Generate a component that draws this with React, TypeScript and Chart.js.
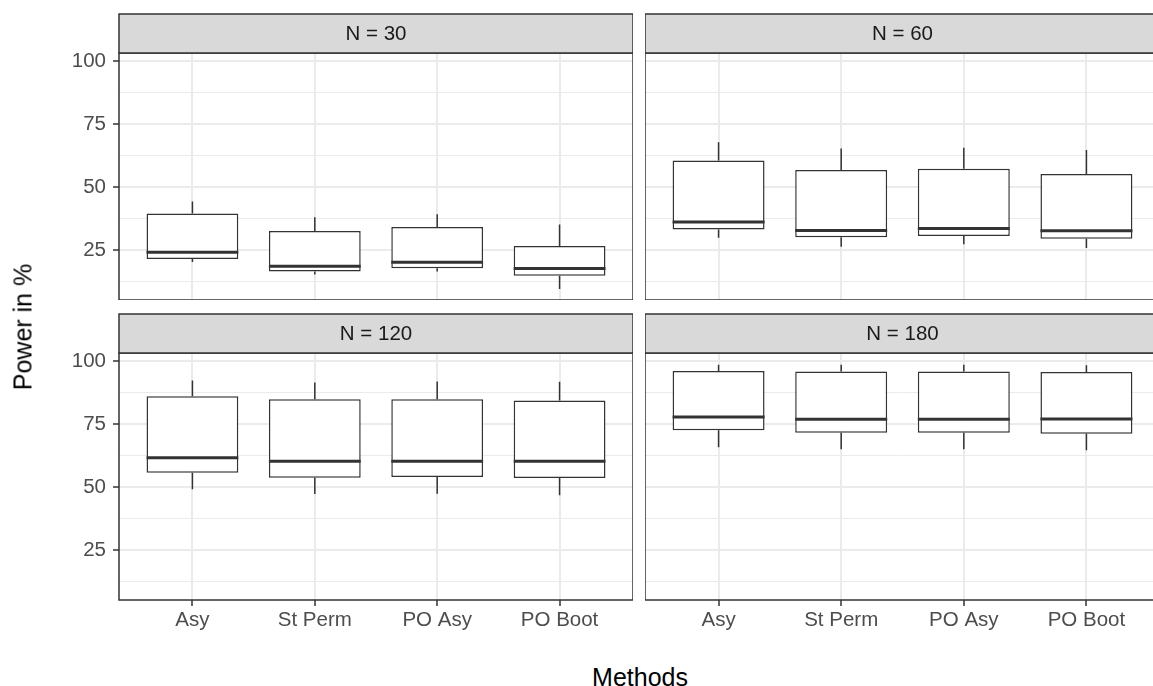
import React, { useEffect, useRef } from 'react';
import { Chart, registerables } from 'chart.js';

Chart.register(...registerables);

// ---------- data ----------
const methods = ['Asy', 'St Perm', 'PO Asy', 'PO Boot'];
const methodPositions = [1, 2, 3, 4];
const panelTitles = ['N = 30', 'N = 60', 'N = 120', 'N = 180'];
const yMajorTicks = [25, 50, 75, 100];
const yMinorTicks = [12.5, 37.5, 62.5, 87.5];

const n30Low = [20.2, 15.2, 16.4, 9.5];
const n30Q1 = [21.4, 16.4, 17.7, 14.7];
const n30Median = [24.1, 18.5, 20.1, 17.6];
const n30Q3 = [39.5, 32.5, 34.1, 26.5];
const n30High = [44.2, 38.0, 39.2, 35.1];

const n60Low = [29.8, 26.2, 27.2, 25.8];
const n60Q1 = [33.1, 30.0, 30.5, 29.4];
const n60Median = [36.1, 32.7, 33.5, 32.6];
const n60Q3 = [60.5, 56.7, 57.2, 55.1];
const n60High = [67.8, 65.3, 65.6, 64.7];

const n120Low = [49.1, 47.2, 47.3, 46.7];
const n120Q1 = [55.6, 53.7, 54.0, 53.6];
const n120Median = [61.6, 60.2, 60.2, 60.2];
const n120Q3 = [86.0, 84.8, 84.8, 84.3];
const n120High = [92.3, 91.5, 91.9, 91.8];

const n180Low = [65.8, 65.0, 65.0, 64.6];
const n180Q1 = [72.5, 71.5, 71.5, 71.1];
const n180Median = [77.8, 76.9, 76.9, 77.0];
const n180Q3 = [96.1, 95.9, 95.9, 95.7];
const n180High = [98.5, 98.5, 98.5, 98.3];

const yMin = 5.1;
const yMax = 103.2;

// ---------- styles ----------
const FONT = '"Liberation Sans", Arial, Helvetica, sans-serif';
const DARK = '#333333';
const GRID = '#EBEBEB';

type Stats = { low: number[]; q1: number[]; median: number[]; q3: number[]; high: number[] };

const facetPlugin = {
  id: 'facetBox',
  afterDatasetsDraw(chart: any, _args: any, opts: any) {
    const { ctx } = chart;
    const yScale = chart.scales.y;
    const meta = chart.getDatasetMeta(0);
    const st: Stats = opts.stats;
    ctx.save();
    ctx.strokeStyle = DARK;
    meta.data.forEach((bar: any, i: number) => {
      const x = bar.x;
      const w = bar.width;
      ctx.lineWidth = 1.5;
      ctx.beginPath();
      ctx.moveTo(x, yScale.getPixelForValue(st.q3[i]));
      ctx.lineTo(x, yScale.getPixelForValue(st.high[i]));
      ctx.moveTo(x, yScale.getPixelForValue(st.q1[i]));
      ctx.lineTo(x, yScale.getPixelForValue(st.low[i]));
      ctx.stroke();
      ctx.lineWidth = 3;
      const ym = yScale.getPixelForValue(st.median[i]);
      ctx.beginPath();
      ctx.moveTo(x - w / 2, ym);
      ctx.lineTo(x + w / 2, ym);
      ctx.stroke();
    });
    ctx.restore();
  },
  afterDraw(chart: any, _args: any, opts: any) {
    const { ctx, chartArea } = chart;
    const { left, right, top, bottom } = chartArea;
    ctx.save();
    // panel border
    ctx.strokeStyle = DARK;
    ctx.lineWidth = 1.5;
    ctx.strokeRect(left, top, right - left, bottom - top);
    // strip
    const sh = 39;
    ctx.fillStyle = '#D9D9D9';
    ctx.fillRect(left, top - sh, right - left, sh);
    ctx.strokeRect(left, top - sh, right - left, sh);
    ctx.fillStyle = '#1A1A1A';
    ctx.font = `20.5px ${FONT}`;
    ctx.textAlign = 'center';
    ctx.textBaseline = 'middle';
    ctx.fillText(opts.title, (left + right) / 2, top - sh / 2 + 1);
    ctx.restore();
  },
};

type PanelProps = {
  left: number;
  top: number;
  width: number;
  height: number;
  showX: boolean;
  showY: boolean;
  title: string;
  stats: Stats;
};

function Panel({ left, top, width, height, showX, showY, title, stats }: PanelProps) {
  const ref = useRef<HTMLCanvasElement | null>(null);
  useEffect(() => {
    if (!ref.current) return;
    const isMajor = (v: number) => yMajorTicks.includes(v);
    const chart = new Chart(ref.current, {
      type: 'bar',
      data: {
        datasets: [
          {
            data: methodPositions.map((x, i) => ({ x, y: [stats.q1[i], stats.q3[i]] })) as any,
            backgroundColor: '#FFFFFF',
            borderColor: DARK,
            borderWidth: 1.5,
            borderSkipped: false,
            barPercentage: 0.75,
            categoryPercentage: 1,
          },
        ],
      },
      options: {
        responsive: false,
        animation: false,
        events: [],
        layout: { padding: { top: 40, left: 0, right: 0, bottom: 0 } },
        plugins: {
          legend: { display: false },
          tooltip: { enabled: false },
          title: { display: false },
          facetBox: { stats, title },
        } as any,
        scales: {
          x: {
            type: 'linear',
            min: 0.4,
            max: 4.6,
            offset: false,
            afterBuildTicks: (s: any) => {
              s.ticks = methodPositions.map((v) => ({ value: v }));
            },
            afterFit: (s: any) => {
              s.height = showX ? 40 : 0;
              s.paddingLeft = 0;
              s.paddingRight = 0;
            },
            ticks: {
              display: showX,
              autoSkip: false,
              maxRotation: 0,
              padding: 2,
              color: '#4D4D4D',
              font: { family: FONT, size: 20.5 },
              callback: (_v: any, i: number) => methods[i],
            },
            grid: {
              offset: false,
              color: GRID,
              lineWidth: 2,
              drawTicks: showX,
              tickLength: 6,
              tickColor: DARK,
              tickWidth: 1.5,
            },
            border: { display: false },
          },
          y: {
            type: 'linear',
            min: yMin,
            max: yMax,
            afterBuildTicks: (s: any) => {
              s.ticks = [...yMinorTicks, ...yMajorTicks].sort((a, b) => a - b).map((v) => ({ value: v }));
            },
            afterFit: (s: any) => {
              s.width = showY ? 119 : 0;
              s.paddingTop = 0;
              s.paddingBottom = 0;
            },
            ticks: {
              display: showY,
              padding: 7,
              color: '#4D4D4D',
              font: { family: FONT, size: 20.5 },
              callback: (v: any) => (isMajor(v) ? String(v) : ''),
            },
            grid: {
              color: GRID,
              lineWidth: (c: any) => (c.tick && isMajor(c.tick.value) ? 2 : 1),
              drawTicks: showY,
              tickLength: 6,
              tickColor: (c: any) => (c.tick && isMajor(c.tick.value) ? DARK : 'rgba(0,0,0,0)'),
              tickWidth: 1.5,
            },
            border: { display: false },
          },
        } as any,
      },
      plugins: [facetPlugin as any],
    });
    return () => chart.destroy();
  }, []);
  return (
    <div style={{ position: 'absolute', left, top, width, height }}>
      <canvas ref={ref} width={width} height={height} style={{ width, height, display: 'block' }} />
    </div>
  );
}

export default function App() {
  const s30: Stats = { low: n30Low, q1: n30Q1, median: n30Median, q3: n30Q3, high: n30High };
  const s60: Stats = { low: n60Low, q1: n60Q1, median: n60Median, q3: n60Q3, high: n60High };
  const s120: Stats = { low: n120Low, q1: n120Q1, median: n120Median, q3: n120Q3, high: n120High };
  const s180: Stats = { low: n180Low, q1: n180Q1, median: n180Median, q3: n180Q3, high: n180High };
  return (
    <div
      style={{
        position: 'fixed',
        left: 0,
        top: 0,
        width: 1153,
        height: 686,
        overflow: 'hidden',
        background: '#FFFFFF',
        fontFamily: FONT,
      }}
    >
      <Panel left={0} top={13} width={633} height={287} showX={false} showY={true} title={panelTitles[0]} stats={s30} />
      <Panel left={645} top={13} width={515} height={287} showX={false} showY={false} title={panelTitles[1]} stats={s60} />
      <Panel left={0} top={313} width={633} height={327} showX={true} showY={true} title={panelTitles[2]} stats={s120} />
      <Panel left={645} top={313} width={515} height={327} showX={true} showY={false} title={panelTitles[3]} stats={s180} />
      <div
        style={{
          position: 'absolute',
          left: 23,
          top: 327,
          transform: 'translate(-50%, -50%) rotate(-90deg)',
          whiteSpace: 'nowrap',
          fontSize: 25,
          color: '#000000',
          lineHeight: 1,
        }}
      >
        Power in %
      </div>
      <div
        style={{
          position: 'absolute',
          left: 640,
          top: 677,
          transform: 'translate(-50%, -50%)',
          whiteSpace: 'nowrap',
          fontSize: 25,
          color: '#000000',
          lineHeight: 1,
        }}
      >
        Methods
      </div>
    </div>
  );
}
